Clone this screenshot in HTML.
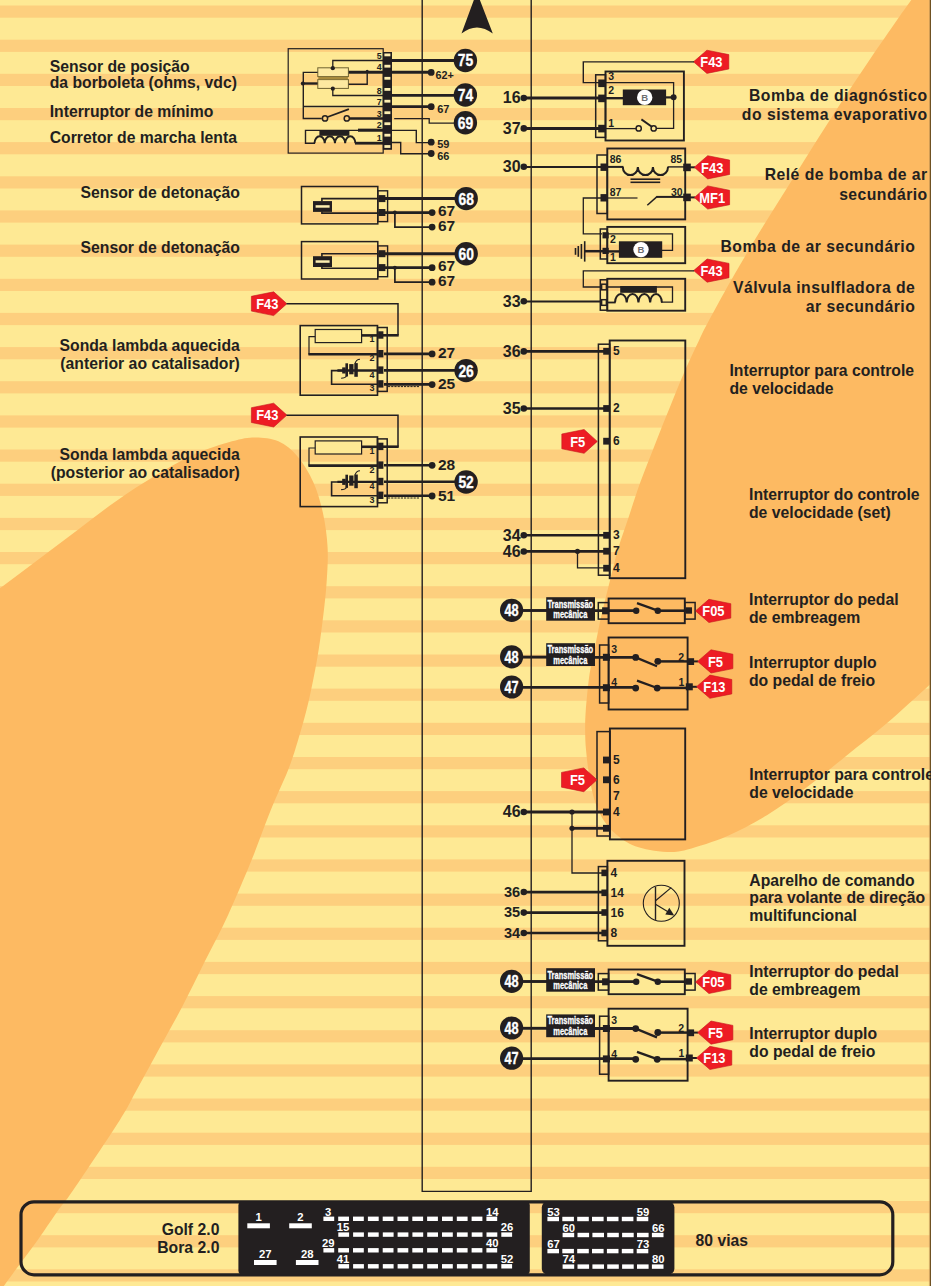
<!DOCTYPE html>
<html lang="pt-BR"><head><meta charset="utf-8"><title>Golf 2.0 / Bora 2.0 - 80 vias</title>
<style>
html,body{margin:0;padding:0;background:#fee994;}
svg{display:block;font-family:"Liberation Sans",sans-serif;}
</style></head><body>
<svg width="931" height="1286" viewBox="0 0 931 1286">
<rect width="931" height="1286" fill="#fee994"/>
<rect x="0" y="5.5" width="931" height="12.2" fill="#fdcf7e"/>
<rect x="0" y="39.7" width="931" height="12.2" fill="#fdcf7e"/>
<rect x="0" y="73.8" width="931" height="12.2" fill="#fdcf7e"/>
<rect x="0" y="108" width="931" height="12.2" fill="#fdcf7e"/>
<rect x="0" y="142.1" width="931" height="12.2" fill="#fdcf7e"/>
<rect x="0" y="176.3" width="931" height="12.2" fill="#fdcf7e"/>
<rect x="0" y="210.4" width="931" height="12.2" fill="#fdcf7e"/>
<rect x="0" y="244.6" width="931" height="12.2" fill="#fdcf7e"/>
<rect x="0" y="278.8" width="931" height="12.2" fill="#fdcf7e"/>
<rect x="0" y="312.9" width="931" height="12.2" fill="#fdcf7e"/>
<rect x="0" y="347.1" width="931" height="12.2" fill="#fdcf7e"/>
<rect x="0" y="381.2" width="931" height="12.2" fill="#fdcf7e"/>
<rect x="0" y="415.4" width="931" height="12.2" fill="#fdcf7e"/>
<rect x="0" y="449.5" width="931" height="12.2" fill="#fdcf7e"/>
<rect x="0" y="483.7" width="931" height="12.2" fill="#fdcf7e"/>
<rect x="0" y="517.9" width="931" height="12.2" fill="#fdcf7e"/>
<rect x="0" y="552" width="931" height="12.2" fill="#fdcf7e"/>
<rect x="0" y="586.2" width="931" height="12.2" fill="#fdcf7e"/>
<rect x="0" y="620.3" width="931" height="12.2" fill="#fdcf7e"/>
<rect x="0" y="654.5" width="931" height="12.2" fill="#fdcf7e"/>
<rect x="0" y="688.6" width="931" height="12.2" fill="#fdcf7e"/>
<rect x="0" y="722.8" width="931" height="12.2" fill="#fdcf7e"/>
<rect x="0" y="757" width="931" height="12.2" fill="#fdcf7e"/>
<rect x="0" y="791.1" width="931" height="12.2" fill="#fdcf7e"/>
<rect x="0" y="825.3" width="931" height="12.2" fill="#fdcf7e"/>
<rect x="0" y="859.4" width="931" height="12.2" fill="#fdcf7e"/>
<rect x="0" y="893.6" width="931" height="12.2" fill="#fdcf7e"/>
<rect x="0" y="927.7" width="931" height="12.2" fill="#fdcf7e"/>
<rect x="0" y="961.9" width="931" height="12.2" fill="#fdcf7e"/>
<rect x="0" y="996.1" width="931" height="12.2" fill="#fdcf7e"/>
<rect x="0" y="1030.2" width="931" height="12.2" fill="#fdcf7e"/>
<rect x="0" y="1064.4" width="931" height="12.2" fill="#fdcf7e"/>
<rect x="0" y="1098.5" width="931" height="12.2" fill="#fdcf7e"/>
<rect x="0" y="1132.7" width="931" height="12.2" fill="#fdcf7e"/>
<rect x="0" y="1166.8" width="931" height="12.2" fill="#fdcf7e"/>
<rect x="0" y="1201" width="931" height="12.2" fill="#fdcf7e"/>
<rect x="0" y="1235.2" width="931" height="12.2" fill="#fdcf7e"/>
<rect x="0" y="1269.3" width="931" height="12.2" fill="#fdcf7e"/>
<path d="M-40,618 C-33.3,613 -13.1,598 0,588.2 C13.1,578.4 25.8,568.9 38.7,559.2 C51.6,549.5 64.4,539.9 77.3,530.2 C90.2,520.5 103.1,510.2 116,501.2 C128.9,492.2 141.8,483.8 154.7,476.1 C167.6,468.4 180.4,460.6 193.3,454.8 C206.2,449 221.7,444.2 232,441.3 C242.3,438.4 247.5,437.4 255.2,437.4 C262.9,437.4 271.3,438.1 278.4,441.3 C285.5,444.5 292,449.9 297.8,456.7 C303.6,463.5 309,472.5 313.2,481.9 C317.4,491.2 320.5,501.8 322.9,512.8 C325.3,523.8 327,536 327.6,547.6 C328.2,559.2 327.4,570.1 326.6,582.4 C325.8,594.6 324.2,608.2 322.6,621.1 C321,634 319.4,646.3 317,659.8 C314.6,673.3 311.6,688.8 308.4,702.3 C305.2,715.8 301.2,729.7 297.8,741 C294.4,752.3 292.6,758.5 288.1,770 C283.6,781.5 276.8,795.2 270.7,810.3 C264.6,825.4 258.5,843.1 251.4,860.5 C244.3,877.9 235.9,897.9 228.2,914.7 C220.5,931.5 212.7,945.6 205,961.1 C197.3,976.6 189.6,992.7 181.8,1007.5 C174.1,1022.3 166.2,1035.8 158.5,1050 C150.8,1064.2 141.7,1080.9 135.3,1092.6 C128.9,1104.3 130.2,1103.8 119.9,1120 C109.6,1136.2 83.5,1175.1 73.3,1190 C63.1,1204.9 63.6,1202.8 58.7,1209.6 C53.8,1216.4 48.9,1224 44,1231 C39.1,1238 34.2,1244.9 29.3,1251.6 C24.4,1258.3 18.9,1265.4 14.7,1271.1 C10.5,1276.8 9.7,1278.2 3.9,1286 C-1.9,1293.8 -16,1312.7 -20,1318 L-60,1330 L-60,618 Z" fill="#fdba62"/>
<path d="M925,-20 C922.7,-16.7 915.8,-6.5 911.3,0 C906.8,6.5 904.5,9.2 897.7,19 C890.9,28.8 879.6,45.1 870.5,58.5 C861.4,71.9 852.4,85.5 843.3,99.3 C834.2,113.1 825.2,127.2 816.1,141.5 C807,155.8 798,170.5 788.9,185 C779.8,199.5 770.7,213.8 761.7,228.6 C752.7,243.3 743.8,258.3 735,273.5 C726.2,288.7 715.2,308.9 709.2,320 C703.2,331.1 703.1,331.8 699.1,340.2 C695.1,348.6 689.7,359.8 685,370.6 C680.3,381.4 675.9,392.5 670.8,405 C665.7,417.5 659.6,432.6 654.6,445.4 C649.6,458.2 644.9,469.7 640.5,481.8 C636.1,493.9 632,507.1 628.3,518.2 C624.6,529.3 621.2,538.3 618.2,548.6 C615.2,558.9 613,568.4 610.1,580 C607.2,591.6 603.5,606.1 600.8,618.3 C598.1,630.5 595.7,643.6 593.8,653.3 C591.9,663 590.6,666.9 589.2,676.6 C587.9,686.3 586.4,701.9 585.7,711.6 C585,721.3 585.1,728.1 585.2,734.9 C585.3,741.7 585.7,746 586.3,752.6 C586.9,759.2 587.8,767.1 589,774.4 C590.2,781.7 591.7,789.9 593.4,796.2 C595.1,802.6 597.3,808 599.4,812.5 C601.5,817 603.5,820.1 605.9,823.4 C608.2,826.7 610.4,829.2 613.5,832.1 C616.6,835 620.8,838.4 624.4,840.8 C628,843.1 631,844.7 635.3,846.2 C639.6,847.7 644.5,849 650,850 C655.5,851 661.8,852.1 668,852 C674.2,851.9 677.6,852.2 687.5,849.5 C697.4,846.8 714.1,841.8 727.4,836 C740.7,830.2 754,823.1 767.3,815 C780.6,806.9 793.8,797.1 807.1,787.1 C820.4,777.1 833.7,765.8 847,755.2 C860.3,744.6 872.8,735.2 886.8,723.3 C900.8,711.3 918,695.4 931,683.5 C944,671.6 959.3,657.2 965,652 L965,-20 Z" fill="#fdba62"/>
<rect x="928.8" y="0" width="1" height="1286" fill="#fdc578" opacity="0.6"/>
<rect x="929.7" y="0" width="1.3" height="1286" fill="#6f5122"/>
<polyline points="422.2,-5 422.2,1191.4 531.2,1191.4 531.2,-5" fill="none" stroke="#231f20" stroke-width="1.4" stroke-linecap="butt" stroke-linejoin="miter"/>
<path d="M476.8,-8 L492.8,33.5 Q476.8,21.5 461.5,33.5 Z" fill="#231f20"/>
<rect x="288.2" y="48.7" width="95" height="104.4" fill="none" stroke="#231f20" stroke-width="1.2"/>
<rect x="382.8" y="52" width="9.2" height="97.8" fill="#231f20"/>
<rect x="384.4" y="53.5" width="6" height="2.8" fill="#fdeeb0"/>
<rect x="384.4" y="64.8" width="6" height="2.8" fill="#fdeeb0"/>
<rect x="384.4" y="76.9" width="6" height="2.8" fill="#fdeeb0"/>
<rect x="384.4" y="88" width="6" height="2.8" fill="#fdeeb0"/>
<rect x="384.4" y="99.8" width="6" height="2.8" fill="#fdeeb0"/>
<rect x="384.4" y="111.3" width="6" height="2.8" fill="#fdeeb0"/>
<rect x="384.4" y="122.3" width="6" height="2.8" fill="#fdeeb0"/>
<rect x="384.4" y="133.8" width="6" height="2.8" fill="#fdeeb0"/>
<rect x="384.4" y="145.1" width="6" height="2.8" fill="#fdeeb0"/>
<text x="381.7" y="58.5" font-size="8.8" text-anchor="end" fill="#231f20" font-weight="bold">5</text>
<text x="381.7" y="70.4" font-size="8.8" text-anchor="end" fill="#231f20" font-weight="bold">4</text>
<text x="381.7" y="93.5" font-size="8.8" text-anchor="end" fill="#231f20" font-weight="bold">8</text>
<text x="381.7" y="104.7" font-size="8.8" text-anchor="end" fill="#231f20" font-weight="bold">7</text>
<text x="381.7" y="116.6" font-size="8.8" text-anchor="end" fill="#231f20" font-weight="bold">3</text>
<text x="381.7" y="128.3" font-size="8.8" text-anchor="end" fill="#231f20" font-weight="bold">2</text>
<text x="381.7" y="140.9" font-size="8.8" text-anchor="end" fill="#231f20" font-weight="bold">1</text>
<rect x="317.8" y="67.8" width="30.6" height="8.8" fill="#fde9a0" stroke="#6f6230" stroke-width="1"/>
<rect x="317.8" y="79.6" width="30.6" height="8.8" fill="#fde9a0" stroke="#6f6230" stroke-width="1"/>
<rect x="318.3" y="76.9" width="29.6" height="2.4" fill="#a88a3c"/>
<polyline points="332.8,68.2 332.8,60.5 383.5,60.5" fill="none" stroke="#231f20" stroke-width="1.3" stroke-linecap="butt" stroke-linejoin="miter"/>
<circle cx="332.8" cy="68.2" r="2.1" fill="#231f20"/>
<polyline points="332.8,88.6 332.8,95.5 383.5,95.5" fill="none" stroke="#231f20" stroke-width="1.3" stroke-linecap="butt" stroke-linejoin="miter"/>
<circle cx="332.8" cy="88.7" r="2.1" fill="#231f20"/>
<line x1="348.7" y1="72.3" x2="383.5" y2="72.3" stroke="#231f20" stroke-width="3" stroke-linecap="butt"/>
<polyline points="367.2,71 367.2,84.2 348.7,84.2" fill="none" stroke="#231f20" stroke-width="1.4" stroke-linecap="butt" stroke-linejoin="miter"/>
<circle cx="367.2" cy="71.2" r="1.5" fill="#231f20"/>
<circle cx="302.8" cy="83.5" r="2" fill="#231f20"/>
<line x1="302.8" y1="83.5" x2="317.6" y2="83.5" stroke="#231f20" stroke-width="2.4" stroke-linecap="butt"/>
<polyline points="317.6,72.4 303.3,72.4 303.3,118.5 321.8,118.5" fill="none" stroke="#231f20" stroke-width="1.4" stroke-linecap="butt" stroke-linejoin="miter"/>
<line x1="303.3" y1="106.5" x2="383.5" y2="106.5" stroke="#231f20" stroke-width="1.3" stroke-linecap="butt"/>
<circle cx="325" cy="118.4" r="2.6" fill="none" stroke="#231f20" stroke-width="1.5"/>
<circle cx="346.8" cy="118.4" r="2.6" fill="none" stroke="#231f20" stroke-width="1.5"/>
<line x1="327.6" y1="117" x2="348.9" y2="109.2" stroke="#231f20" stroke-width="1.8" stroke-linecap="butt"/>
<line x1="349.8" y1="118.5" x2="383.5" y2="118.5" stroke="#231f20" stroke-width="2.5" stroke-linecap="butt"/>
<polyline points="315,143.3 305.5,143.3 305.5,130.4 358.4,130.4" fill="none" stroke="#231f20" stroke-width="1.4" stroke-linecap="butt" stroke-linejoin="miter"/>
<line x1="358" y1="130.2" x2="383.5" y2="130.2" stroke="#231f20" stroke-width="3.1" stroke-linecap="butt"/>
<rect x="319.4" y="130.9" width="30" height="4.9" fill="#231f20"/>
<path d="M314.5,143.3 a5.11,7 0 0 1 10.22,0 a5.11,7 0 0 1 10.22,0 a5.11,7 0 0 1 10.22,0 a5.11,7 0 0 1 10.22,0" fill="none" stroke="#231f20" stroke-width="1.9"/>
<line x1="355" y1="143.2" x2="383.5" y2="143.2" stroke="#231f20" stroke-width="2.8" stroke-linecap="butt"/>
<line x1="391.7" y1="60.4" x2="455" y2="60.4" stroke="#231f20" stroke-width="3" stroke-linecap="butt"/>
<circle cx="465.4" cy="60.5" r="11.7" fill="#231f20"/>
<text transform="translate(465.4 66.4) scale(0.84 1)" font-size="16.5" text-anchor="middle" fill="#fff" stroke="#fff" stroke-width="0.35" font-weight="bold">75</text>
<line x1="391.7" y1="72.3" x2="431.2" y2="72.3" stroke="#231f20" stroke-width="2.9" stroke-linecap="butt"/>
<circle cx="431.2" cy="72.4" r="3.4" fill="#231f20"/>
<text x="435.6" y="79" font-size="10.8" text-anchor="start" fill="#231f20" font-weight="bold">62+</text>
<line x1="391.7" y1="95.4" x2="455" y2="95.4" stroke="#231f20" stroke-width="2.9" stroke-linecap="butt"/>
<circle cx="465.4" cy="95" r="11.7" fill="#231f20"/>
<text transform="translate(465.4 100.9) scale(0.84 1)" font-size="16.5" text-anchor="middle" fill="#fff" stroke="#fff" stroke-width="0.35" font-weight="bold">74</text>
<line x1="391.7" y1="106.6" x2="431.2" y2="106.6" stroke="#231f20" stroke-width="2.8" stroke-linecap="butt"/>
<circle cx="431.2" cy="106.7" r="3.4" fill="#231f20"/>
<text x="437.2" y="113.2" font-size="11" text-anchor="start" fill="#231f20" font-weight="bold">67</text>
<polyline points="394.2,118.6 429.2,118.6 429.2,123.1 455,123.1" fill="none" stroke="#231f20" stroke-width="1.3" stroke-linecap="butt" stroke-linejoin="miter"/>
<circle cx="465.4" cy="122.8" r="11.7" fill="#231f20"/>
<text transform="translate(465.4 128.7) scale(0.84 1)" font-size="16.5" text-anchor="middle" fill="#fff" stroke="#fff" stroke-width="0.35" font-weight="bold">69</text>
<polyline points="391.7,130.4 416.3,130.4 416.3,142.6 431.2,142.6" fill="none" stroke="#231f20" stroke-width="1.4" stroke-linecap="butt" stroke-linejoin="miter"/>
<circle cx="431.2" cy="142.2" r="3.4" fill="#231f20"/>
<text x="437.2" y="147.6" font-size="11" text-anchor="start" fill="#231f20" font-weight="bold">59</text>
<polyline points="391.7,142.5 400.7,142.5 400.7,153.8 431.2,153.8" fill="none" stroke="#231f20" stroke-width="1.4" stroke-linecap="butt" stroke-linejoin="miter"/>
<circle cx="431.2" cy="153.5" r="3.4" fill="#231f20"/>
<text x="437.2" y="159.8" font-size="11" text-anchor="start" fill="#231f20" font-weight="bold">66</text>
<rect x="301.5" y="186.5" width="76.3" height="37.4" fill="none" stroke="#231f20" stroke-width="1.5"/>
<rect x="377.8" y="190.8" width="9.8" height="30.8" fill="none" stroke="#231f20" stroke-width="1.4"/>
<rect x="378.4" y="195.1" width="7" height="7" fill="#231f20"/>
<rect x="378.4" y="209" width="7" height="7" fill="#231f20"/>
<rect x="313" y="201.1" width="19" height="10.8" fill="#231f20"/>
<rect x="315.6" y="205.2" width="14" height="2.5" fill="#fdeeb0"/>
<polyline points="321.9,201.6 321.9,198.6 378.7,198.6" fill="none" stroke="#231f20" stroke-width="1.6" stroke-linecap="butt" stroke-linejoin="miter"/>
<polyline points="321.9,211.5 321.9,213.1 378.7,213.1" fill="none" stroke="#231f20" stroke-width="1.6" stroke-linecap="butt" stroke-linejoin="miter"/>
<line x1="385" y1="198.6" x2="456" y2="198.6" stroke="#231f20" stroke-width="3" stroke-linecap="butt"/>
<circle cx="466.2" cy="198.6" r="11.7" fill="#231f20"/>
<text transform="translate(466.2 204.5) scale(0.84 1)" font-size="16.5" text-anchor="middle" fill="#fff" stroke="#fff" stroke-width="0.35" font-weight="bold">68</text>
<line x1="385" y1="212.6" x2="432.1" y2="212.6" stroke="#231f20" stroke-width="2.8" stroke-linecap="butt"/>
<circle cx="432.1" cy="212.6" r="3.4" fill="#231f20"/>
<polyline points="394.9,212.6 394.9,227.1 432.1,227.1" fill="none" stroke="#231f20" stroke-width="1.7" stroke-linecap="butt" stroke-linejoin="miter"/>
<circle cx="394.9" cy="212.6" r="2" fill="#231f20"/>
<circle cx="432.1" cy="227.1" r="3.4" fill="#231f20"/>
<text x="438" y="216.2" font-size="15.5" text-anchor="start" fill="#231f20" font-weight="bold">67</text>
<text x="438" y="231" font-size="15.5" text-anchor="start" fill="#231f20" font-weight="bold">67</text>
<rect x="301.5" y="241.6" width="76.3" height="37.4" fill="none" stroke="#231f20" stroke-width="1.5"/>
<rect x="377.8" y="245.9" width="9.8" height="30.8" fill="none" stroke="#231f20" stroke-width="1.4"/>
<rect x="378.4" y="250.2" width="7" height="7" fill="#231f20"/>
<rect x="378.4" y="264.1" width="7" height="7" fill="#231f20"/>
<rect x="313" y="256.2" width="19" height="10.8" fill="#231f20"/>
<rect x="315.6" y="260.3" width="14" height="2.5" fill="#fdeeb0"/>
<polyline points="321.9,256.7 321.9,253.7 378.7,253.7" fill="none" stroke="#231f20" stroke-width="1.6" stroke-linecap="butt" stroke-linejoin="miter"/>
<polyline points="321.9,266.6 321.9,268.2 378.7,268.2" fill="none" stroke="#231f20" stroke-width="1.6" stroke-linecap="butt" stroke-linejoin="miter"/>
<line x1="385" y1="253.7" x2="456" y2="253.7" stroke="#231f20" stroke-width="3" stroke-linecap="butt"/>
<circle cx="466.2" cy="253.7" r="11.7" fill="#231f20"/>
<text transform="translate(466.2 259.6) scale(0.84 1)" font-size="16.5" text-anchor="middle" fill="#fff" stroke="#fff" stroke-width="0.35" font-weight="bold">60</text>
<line x1="385" y1="267.7" x2="432.1" y2="267.7" stroke="#231f20" stroke-width="2.8" stroke-linecap="butt"/>
<circle cx="432.1" cy="267.7" r="3.4" fill="#231f20"/>
<polyline points="394.9,267.7 394.9,282.2 432.1,282.2" fill="none" stroke="#231f20" stroke-width="1.7" stroke-linecap="butt" stroke-linejoin="miter"/>
<circle cx="394.9" cy="267.7" r="2" fill="#231f20"/>
<circle cx="432.1" cy="282.2" r="3.4" fill="#231f20"/>
<text x="438" y="271.3" font-size="15.5" text-anchor="start" fill="#231f20" font-weight="bold">67</text>
<text x="438" y="286.1" font-size="15.5" text-anchor="start" fill="#231f20" font-weight="bold">67</text>
<polygon points="286.9,303.7 273.7,291.8 251.4,296.3 251.4,311.1 273.7,315.6" fill="#ed1c24" stroke="#c4161c" stroke-width="0.6"/>
<text transform="translate(267.3 309) scale(0.86 1)" font-size="15" text-anchor="middle" fill="#fff" font-weight="bold">F43</text>
<polyline points="286.5,303.8 398,303.8 398,335.3" fill="none" stroke="#231f20" stroke-width="1.5" stroke-linecap="butt" stroke-linejoin="miter"/>
<line x1="383" y1="335.3" x2="398.7" y2="335.3" stroke="#231f20" stroke-width="2.6" stroke-linecap="butt"/>
<rect x="300.2" y="325.6" width="77.3" height="69.6" fill="none" stroke="#231f20" stroke-width="1.6"/>
<rect x="377.5" y="327.5" width="9.7" height="63.9" fill="none" stroke="#231f20" stroke-width="1.5"/>
<rect x="378.1" y="331.3" width="5.3" height="7.4" fill="#231f20"/>
<rect x="378.1" y="350" width="5.3" height="7.4" fill="#231f20"/>
<rect x="378.1" y="366.4" width="5.3" height="7.4" fill="#231f20"/>
<rect x="378.1" y="380.2" width="5.3" height="7.4" fill="#231f20"/>
<text x="374.6" y="342.4" font-size="9" text-anchor="end" fill="#231f20" font-weight="bold">1</text>
<text x="374.6" y="361.1" font-size="9" text-anchor="end" fill="#231f20" font-weight="bold">2</text>
<text x="374.6" y="377.5" font-size="9" text-anchor="end" fill="#231f20" font-weight="bold">4</text>
<text x="374.6" y="391.3" font-size="9" text-anchor="end" fill="#231f20" font-weight="bold">3</text>
<rect x="315.2" y="329.5" width="46.4" height="13.1" fill="#fee994" stroke="#231f20" stroke-width="1.2"/>
<line x1="361.6" y1="335.4" x2="378.5" y2="335.4" stroke="#231f20" stroke-width="2.6" stroke-linecap="butt"/>
<polyline points="315.2,336.6 309,336.6 309,354.4" fill="none" stroke="#231f20" stroke-width="1.2" stroke-linecap="butt" stroke-linejoin="miter"/>
<line x1="308.4" y1="354.2" x2="378" y2="354.2" stroke="#231f20" stroke-width="2.6" stroke-linecap="butt"/>
<rect x="342.2" y="367.4" width="3.5" height="6.1" fill="#231f20"/>
<rect x="345.4" y="363.3" width="2.6" height="13.2" fill="#231f20"/>
<rect x="354.3" y="363.1" width="3.5" height="13.7" fill="#231f20"/>
<rect x="349.2" y="364.1" width="4.3" height="10.2" fill="#231f20"/>
<path d="M355,363.5 q1.2,-4 5,-4.2 M346.5,376 q-1.2,2.2 -5.4,2.2" transform="translate(0 0)" fill="none" stroke="#231f20" stroke-width="1.1"/>
<line x1="337.4" y1="370.5" x2="378" y2="370.5" stroke="#231f20" stroke-width="2.4" stroke-linecap="butt"/>
<polyline points="343,370.6 331.6,370.6 331.6,384.3 378,384.3" fill="none" stroke="#231f20" stroke-width="1.6" stroke-linecap="butt" stroke-linejoin="miter"/>
<line x1="384" y1="353.9" x2="432.1" y2="353.9" stroke="#231f20" stroke-width="2.6" stroke-linecap="butt"/>
<circle cx="432.1" cy="353.9" r="3.4" fill="#231f20"/>
<text x="438" y="358.3" font-size="15.5" text-anchor="start" fill="#231f20" font-weight="bold">27</text>
<line x1="384" y1="370.4" x2="455" y2="370.4" stroke="#231f20" stroke-width="2.6" stroke-linecap="butt"/>
<circle cx="466.1" cy="370.6" r="11.7" fill="#231f20"/>
<text transform="translate(466.1 376.5) scale(0.84 1)" font-size="16.5" text-anchor="middle" fill="#fff" stroke="#fff" stroke-width="0.35" font-weight="bold">26</text>
<line x1="384" y1="384.4" x2="432.1" y2="384.4" stroke="#231f20" stroke-width="2.6" stroke-linecap="butt"/>
<circle cx="432.1" cy="384.6" r="3.4" fill="#231f20"/>
<text x="438" y="389.2" font-size="15.5" text-anchor="start" fill="#231f20" font-weight="bold">25</text>
<line x1="388" y1="386.6" x2="420" y2="386.6" stroke="#231f20" stroke-width="1" stroke-dasharray="2.2 1"/>
<polygon points="286.9,415.1 273.7,403.2 251.4,407.7 251.4,422.5 273.7,427" fill="#ed1c24" stroke="#c4161c" stroke-width="0.6"/>
<text transform="translate(267.3 420.4) scale(0.86 1)" font-size="15" text-anchor="middle" fill="#fff" font-weight="bold">F43</text>
<polyline points="286.5,415.2 398,415.2 398,446.7" fill="none" stroke="#231f20" stroke-width="1.5" stroke-linecap="butt" stroke-linejoin="miter"/>
<line x1="383" y1="446.7" x2="398.7" y2="446.7" stroke="#231f20" stroke-width="2.6" stroke-linecap="butt"/>
<rect x="300.2" y="437" width="77.3" height="69.6" fill="none" stroke="#231f20" stroke-width="1.6"/>
<rect x="377.5" y="438.9" width="9.7" height="63.9" fill="none" stroke="#231f20" stroke-width="1.5"/>
<rect x="378.1" y="442.7" width="5.3" height="7.4" fill="#231f20"/>
<rect x="378.1" y="461.4" width="5.3" height="7.4" fill="#231f20"/>
<rect x="378.1" y="477.8" width="5.3" height="7.4" fill="#231f20"/>
<rect x="378.1" y="491.6" width="5.3" height="7.4" fill="#231f20"/>
<text x="374.6" y="453.8" font-size="9" text-anchor="end" fill="#231f20" font-weight="bold">1</text>
<text x="374.6" y="472.5" font-size="9" text-anchor="end" fill="#231f20" font-weight="bold">2</text>
<text x="374.6" y="488.9" font-size="9" text-anchor="end" fill="#231f20" font-weight="bold">4</text>
<text x="374.6" y="502.7" font-size="9" text-anchor="end" fill="#231f20" font-weight="bold">3</text>
<rect x="315.2" y="440.9" width="46.4" height="13.1" fill="#fee994" stroke="#231f20" stroke-width="1.2"/>
<line x1="361.6" y1="446.8" x2="378.5" y2="446.8" stroke="#231f20" stroke-width="2.6" stroke-linecap="butt"/>
<polyline points="315.2,448 309,448 309,465.8" fill="none" stroke="#231f20" stroke-width="1.2" stroke-linecap="butt" stroke-linejoin="miter"/>
<line x1="308.4" y1="465.6" x2="378" y2="465.6" stroke="#231f20" stroke-width="2.6" stroke-linecap="butt"/>
<rect x="342.2" y="478.8" width="3.5" height="6.1" fill="#231f20"/>
<rect x="345.4" y="474.7" width="2.6" height="13.2" fill="#231f20"/>
<rect x="354.3" y="474.5" width="3.5" height="13.7" fill="#231f20"/>
<rect x="349.2" y="475.5" width="4.3" height="10.2" fill="#231f20"/>
<path d="M355,363.5 q1.2,-4 5,-4.2 M346.5,376 q-1.2,2.2 -5.4,2.2" transform="translate(0 111.4)" fill="none" stroke="#231f20" stroke-width="1.1"/>
<line x1="337.4" y1="481.9" x2="378" y2="481.9" stroke="#231f20" stroke-width="2.4" stroke-linecap="butt"/>
<polyline points="343,482 331.6,482 331.6,495.7 378,495.7" fill="none" stroke="#231f20" stroke-width="1.6" stroke-linecap="butt" stroke-linejoin="miter"/>
<line x1="384" y1="465.3" x2="432.1" y2="465.3" stroke="#231f20" stroke-width="2.6" stroke-linecap="butt"/>
<circle cx="432.1" cy="465.3" r="3.4" fill="#231f20"/>
<text x="438" y="469.7" font-size="15.5" text-anchor="start" fill="#231f20" font-weight="bold">28</text>
<line x1="384" y1="481.8" x2="455" y2="481.8" stroke="#231f20" stroke-width="2.6" stroke-linecap="butt"/>
<circle cx="466.1" cy="482" r="11.7" fill="#231f20"/>
<text transform="translate(466.1 487.9) scale(0.84 1)" font-size="16.5" text-anchor="middle" fill="#fff" stroke="#fff" stroke-width="0.35" font-weight="bold">52</text>
<line x1="384" y1="495.8" x2="432.1" y2="495.8" stroke="#231f20" stroke-width="2.6" stroke-linecap="butt"/>
<circle cx="432.1" cy="496" r="3.4" fill="#231f20"/>
<text x="438" y="500.6" font-size="15.5" text-anchor="start" fill="#231f20" font-weight="bold">51</text>
<line x1="388" y1="498" x2="420" y2="498" stroke="#231f20" stroke-width="1" stroke-dasharray="2.2 1"/>
<polygon points="693.5,61.8 706.9,50.2 728.8,54.6 728.8,69 706.9,73.4" fill="#ed1c24" stroke="#c4161c" stroke-width="0.6"/>
<text transform="translate(711.4 67.1) scale(0.86 1)" font-size="15" text-anchor="middle" fill="#fff" font-weight="bold">F43</text>
<polyline points="694,61.9 583.3,61.9 583.3,82.6 600,82.6" fill="none" stroke="#231f20" stroke-width="1.4" stroke-linecap="butt" stroke-linejoin="miter"/>
<rect x="605.5" y="71.5" width="78.4" height="69" fill="none" stroke="#231f20" stroke-width="1.9"/>
<rect x="595.7" y="74.8" width="9.8" height="62.6" fill="none" stroke="#231f20" stroke-width="1.5"/>
<rect x="598.2" y="79.5" width="7.6" height="7.6" fill="#231f20"/>
<rect x="598.2" y="94.6" width="7.6" height="7.6" fill="#231f20"/>
<rect x="598.2" y="124.8" width="7.6" height="7.6" fill="#231f20"/>
<text x="608.3" y="80" font-size="10.5" text-anchor="start" fill="#231f20" font-weight="bold">3</text>
<text x="608.3" y="94.4" font-size="10.5" text-anchor="start" fill="#231f20" font-weight="bold">2</text>
<text x="608.3" y="127.2" font-size="10.5" text-anchor="start" fill="#231f20" font-weight="bold">1</text>
<text x="520.6" y="103.3" font-size="16" text-anchor="end" fill="#231f20" font-weight="bold">16</text>
<circle cx="523.8" cy="98" r="3.3" fill="#231f20"/>
<line x1="523.8" y1="98" x2="600" y2="98" stroke="#231f20" stroke-width="3" stroke-linecap="butt"/>
<text x="520.6" y="133.7" font-size="16" text-anchor="end" fill="#231f20" font-weight="bold">37</text>
<circle cx="523.8" cy="128.4" r="3.3" fill="#231f20"/>
<line x1="523.8" y1="128.5" x2="600" y2="128.5" stroke="#231f20" stroke-width="3" stroke-linecap="butt"/>
<line x1="605" y1="98.2" x2="623" y2="98.2" stroke="#231f20" stroke-width="2.4" stroke-linecap="butt"/>
<rect x="622.8" y="89.5" width="43.3" height="15.7" fill="#231f20"/>
<circle cx="644.7" cy="97.4" r="7.7" fill="#fff"/>
<text x="644.7" y="100.8" font-size="9.5" text-anchor="middle" fill="#6d6e71" font-weight="bold">B</text>
<line x1="666" y1="97.4" x2="673.6" y2="97.4" stroke="#231f20" stroke-width="2.2" stroke-linecap="butt"/>
<circle cx="673.6" cy="97.3" r="3" fill="#231f20"/>
<polyline points="605,82.6 673.6,82.6 673.6,128.4 656.4,128.4" fill="none" stroke="#231f20" stroke-width="1.3" stroke-linecap="butt" stroke-linejoin="miter"/>
<circle cx="638.7" cy="128.4" r="2.6" fill="none" stroke="#231f20" stroke-width="1.5"/>
<circle cx="653.7" cy="128.4" r="2.6" fill="none" stroke="#231f20" stroke-width="1.5"/>
<line x1="641.4" y1="119.4" x2="652.2" y2="127" stroke="#231f20" stroke-width="1.9" stroke-linecap="butt"/>
<line x1="605" y1="128.6" x2="636.1" y2="128.6" stroke="#231f20" stroke-width="1.3" stroke-linecap="butt"/>
<rect x="607.3" y="148.5" width="77.9" height="70.9" fill="none" stroke="#231f20" stroke-width="1.9"/>
<rect x="597" y="155" width="10.3" height="58.5" fill="none" stroke="#231f20" stroke-width="1.5"/>
<rect x="600.5" y="163.5" width="7.4" height="7.4" fill="#231f20"/>
<rect x="600.5" y="194.1" width="7.4" height="7.4" fill="#231f20"/>
<rect x="683.2" y="163.6" width="7.6" height="7.6" fill="#231f20"/>
<rect x="683.2" y="193.6" width="7.6" height="7.6" fill="#231f20"/>
<text x="520.6" y="172.1" font-size="16" text-anchor="end" fill="#231f20" font-weight="bold">30</text>
<circle cx="523.8" cy="166.8" r="3.3" fill="#231f20"/>
<line x1="523.8" y1="167" x2="601" y2="167" stroke="#231f20" stroke-width="1.8" stroke-linecap="butt"/>
<text x="609.7" y="163.3" font-size="10.5" text-anchor="start" fill="#231f20" font-weight="bold">86</text>
<text x="670.4" y="163.3" font-size="10.5" text-anchor="start" fill="#231f20" font-weight="bold">85</text>
<text x="609.7" y="196.2" font-size="10.5" text-anchor="start" fill="#231f20" font-weight="bold">87</text>
<text x="671" y="196.2" font-size="10.5" text-anchor="start" fill="#231f20" font-weight="bold">30</text>
<line x1="607" y1="166.9" x2="623.5" y2="166.9" stroke="#231f20" stroke-width="2" stroke-linecap="butt"/>
<path d="M622.8,166.9 a7.53,8.2 0 0 0 15.07,0 a7.53,8.2 0 0 0 15.07,0 a7.53,8.2 0 0 0 15.07,0" fill="none" stroke="#231f20" stroke-width="2"/>
<line x1="667.5" y1="166.9" x2="684" y2="166.9" stroke="#231f20" stroke-width="1.4" stroke-linecap="butt"/>
<line x1="630.5" y1="179.2" x2="660.2" y2="179.2" stroke="#231f20" stroke-width="1.6" stroke-linecap="butt"/>
<line x1="630.5" y1="182.3" x2="660.2" y2="182.3" stroke="#231f20" stroke-width="1.6" stroke-linecap="butt"/>
<line x1="607" y1="198" x2="637.5" y2="198" stroke="#231f20" stroke-width="1.2" stroke-linecap="butt"/>
<line x1="656.3" y1="196.9" x2="684" y2="196.9" stroke="#231f20" stroke-width="2" stroke-linecap="butt"/>
<line x1="657" y1="196.6" x2="647.3" y2="205.2" stroke="#231f20" stroke-width="1.5" stroke-linecap="butt"/>
<line x1="690" y1="167.3" x2="695" y2="167.3" stroke="#231f20" stroke-width="2" stroke-linecap="butt"/>
<polygon points="694.3,167.3 707.7,155.7 729.6,160.1 729.6,174.5 707.7,178.9" fill="#ed1c24" stroke="#c4161c" stroke-width="0.6"/>
<text transform="translate(712.2 172.6) scale(0.86 1)" font-size="15" text-anchor="middle" fill="#fff" font-weight="bold">F43</text>
<line x1="690" y1="197.4" x2="695" y2="197.4" stroke="#231f20" stroke-width="2" stroke-linecap="butt"/>
<polygon points="694.3,197.5 707.7,185.9 729.6,190.3 729.6,204.7 707.7,209.1" fill="#ed1c24" stroke="#c4161c" stroke-width="0.6"/>
<text transform="translate(712.2 202.8) scale(0.86 1)" font-size="15" text-anchor="middle" fill="#fff" font-weight="bold">MF1</text>
<polyline points="601,198 583.3,198 583.3,233.8 602,233.8" fill="none" stroke="#231f20" stroke-width="1.3" stroke-linecap="butt" stroke-linejoin="miter"/>
<rect x="607.3" y="226.9" width="77.9" height="36.3" fill="none" stroke="#231f20" stroke-width="1.9"/>
<rect x="600.3" y="229" width="7" height="30" fill="none" stroke="#231f20" stroke-width="1.5"/>
<rect x="602.5" y="232.2" width="6.2" height="6.2" fill="#231f20"/>
<rect x="602.5" y="247.8" width="6.2" height="6.2" fill="#231f20"/>
<text x="610" y="243.2" font-size="10.5" text-anchor="start" fill="#231f20" font-weight="bold">2</text>
<text x="610" y="261.3" font-size="10.5" text-anchor="start" fill="#231f20" font-weight="bold">1</text>
<polyline points="607,233.8 672.5,233.8 672.5,250.3 662,250.3" fill="none" stroke="#231f20" stroke-width="1.3" stroke-linecap="butt" stroke-linejoin="miter"/>
<line x1="604" y1="251.4" x2="619.5" y2="251.4" stroke="#231f20" stroke-width="2.4" stroke-linecap="butt"/>
<rect x="618.9" y="241.3" width="43.3" height="16.5" fill="#231f20"/>
<circle cx="641" cy="249.6" r="7.7" fill="#fff"/>
<text x="641" y="253" font-size="9.5" text-anchor="middle" fill="#6d6e71" font-weight="bold">B</text>
<line x1="584" y1="251.2" x2="603" y2="251.2" stroke="#231f20" stroke-width="2.5" stroke-linecap="butt"/>
<line x1="584.7" y1="241.2" x2="584.7" y2="261.6" stroke="#231f20" stroke-width="1.6" stroke-linecap="butt"/>
<line x1="581.4" y1="244" x2="581.4" y2="258.8" stroke="#231f20" stroke-width="1.6" stroke-linecap="butt"/>
<line x1="578.3" y1="246" x2="578.3" y2="256.8" stroke="#231f20" stroke-width="1.6" stroke-linecap="butt"/>
<line x1="575.5" y1="248" x2="575.5" y2="254.8" stroke="#231f20" stroke-width="1.6" stroke-linecap="butt"/>
<polygon points="693.7,270.6 707.1,259 729,263.4 729,277.8 707.1,282.2" fill="#ed1c24" stroke="#c4161c" stroke-width="0.6"/>
<text transform="translate(711.6 275.9) scale(0.86 1)" font-size="15" text-anchor="middle" fill="#fff" font-weight="bold">F43</text>
<polyline points="694,270.8 583.3,270.8 583.3,287 601,287" fill="none" stroke="#231f20" stroke-width="1.3" stroke-linecap="butt" stroke-linejoin="miter"/>
<rect x="607.3" y="278.8" width="77.9" height="31.9" fill="none" stroke="#231f20" stroke-width="1.9"/>
<rect x="600.3" y="279.8" width="7" height="30.4" fill="none" stroke="#231f20" stroke-width="1.5"/>
<rect x="601.6" y="284.2" width="4.8" height="5.6" fill="none" stroke="#231f20" stroke-width="1.5"/>
<rect x="601.6" y="299.7" width="4.8" height="5.6" fill="none" stroke="#231f20" stroke-width="1.5"/>
<polyline points="606.4,287 672.5,287 672.5,302.2 661,302.2" fill="none" stroke="#231f20" stroke-width="1.3" stroke-linecap="butt" stroke-linejoin="miter"/>
<rect x="620.2" y="286" width="36.7" height="6.8" fill="#231f20"/>
<path d="M615,302.4 a5.86,8.4 0 0 1 11.72,0 a5.86,8.4 0 0 1 11.72,0 a5.86,8.4 0 0 1 11.72,0 a5.86,8.4 0 0 1 11.72,0" fill="none" stroke="#231f20" stroke-width="2"/>
<line x1="606.4" y1="302.5" x2="615.6" y2="302.5" stroke="#231f20" stroke-width="1.8" stroke-linecap="butt"/>
<text x="520.6" y="306.5" font-size="16" text-anchor="end" fill="#231f20" font-weight="bold">33</text>
<circle cx="523.8" cy="301.2" r="3.3" fill="#231f20"/>
<line x1="523.8" y1="301.5" x2="601.6" y2="301.5" stroke="#231f20" stroke-width="1.9" stroke-linecap="butt"/>
<rect x="609.7" y="340.5" width="75.6" height="237.7" fill="none" stroke="#231f20" stroke-width="1.9"/>
<rect x="598.4" y="344.2" width="11.3" height="231" fill="none" stroke="#231f20" stroke-width="1.5"/>
<rect x="603.2" y="347.9" width="6.8" height="6.8" fill="#231f20"/>
<text x="613" y="355.2" font-size="12" text-anchor="start" fill="#231f20" font-weight="bold">5</text>
<rect x="603.2" y="405.1" width="6.8" height="6.8" fill="#231f20"/>
<text x="613" y="412.4" font-size="12" text-anchor="start" fill="#231f20" font-weight="bold">2</text>
<rect x="603.2" y="437.8" width="6.8" height="6.8" fill="#231f20"/>
<text x="613" y="445.1" font-size="12" text-anchor="start" fill="#231f20" font-weight="bold">6</text>
<rect x="603.2" y="531.9" width="6.8" height="6.8" fill="#231f20"/>
<text x="613" y="539.2" font-size="12" text-anchor="start" fill="#231f20" font-weight="bold">3</text>
<rect x="603.2" y="547.8" width="6.8" height="6.8" fill="#231f20"/>
<text x="613" y="555.1" font-size="12" text-anchor="start" fill="#231f20" font-weight="bold">7</text>
<rect x="603.2" y="564.8" width="6.8" height="6.8" fill="#231f20"/>
<text x="613" y="572.1" font-size="12" text-anchor="start" fill="#231f20" font-weight="bold">4</text>
<text x="520.6" y="356.7" font-size="16" text-anchor="end" fill="#231f20" font-weight="bold">36</text>
<circle cx="523.8" cy="351.4" r="3.3" fill="#231f20"/>
<line x1="523.8" y1="351.4" x2="604" y2="351.4" stroke="#231f20" stroke-width="2.6" stroke-linecap="butt"/>
<text x="520.6" y="413.8" font-size="16" text-anchor="end" fill="#231f20" font-weight="bold">35</text>
<circle cx="523.8" cy="408.5" r="3.3" fill="#231f20"/>
<line x1="523.8" y1="408.5" x2="604" y2="408.5" stroke="#231f20" stroke-width="2.6" stroke-linecap="butt"/>
<text x="520.6" y="540.6" font-size="16" text-anchor="end" fill="#231f20" font-weight="bold">34</text>
<circle cx="523.8" cy="535.3" r="3.3" fill="#231f20"/>
<line x1="523.8" y1="535.3" x2="604" y2="535.3" stroke="#231f20" stroke-width="2.6" stroke-linecap="butt"/>
<text x="520.6" y="556.8" font-size="16" text-anchor="end" fill="#231f20" font-weight="bold">46</text>
<circle cx="523.8" cy="551.5" r="3.3" fill="#231f20"/>
<line x1="523.8" y1="551.4" x2="604" y2="551.4" stroke="#231f20" stroke-width="2.6" stroke-linecap="butt"/>
<circle cx="577.5" cy="551.3" r="2.6" fill="#231f20"/>
<polyline points="577.5,551.3 577.5,567.9 604,567.9" fill="none" stroke="#231f20" stroke-width="1.3" stroke-linecap="butt" stroke-linejoin="miter"/>
<polygon points="597.3,441.4 584.1,429.5 561.8,434 561.8,448.8 584.1,453.3" fill="#ed1c24" stroke="#c4161c" stroke-width="0.6"/>
<text transform="translate(577.7 446.7) scale(0.86 1)" font-size="15" text-anchor="middle" fill="#fff" font-weight="bold">F5</text>
<circle cx="511.6" cy="610.3" r="11.6" fill="#231f20"/>
<text transform="translate(511.6 616.4) scale(0.75 1)" font-size="17" text-anchor="middle" fill="#fff" stroke="#fff" stroke-width="0.35" font-weight="bold">48</text>
<line x1="522" y1="610.5" x2="547" y2="610.5" stroke="#231f20" stroke-width="2.9" stroke-linecap="butt"/>
<rect x="546.2" y="597.2" width="48.8" height="23.5" fill="#231f20"/>
<text transform="translate(570.3 607.5) scale(0.72 1)" font-size="10.4" text-anchor="middle" fill="#fff" stroke="#fff" stroke-width="0.3" font-weight="bold">Transmissão</text>
<text transform="translate(570.3 617.8) scale(0.72 1)" font-size="10.4" text-anchor="middle" fill="#fff" stroke="#fff" stroke-width="0.3" font-weight="bold">mecânica</text>
<line x1="594.5" y1="610.6" x2="636" y2="610.6" stroke="#231f20" stroke-width="2.8" stroke-linecap="butt"/>
<rect x="608.6" y="598.5" width="76.2" height="24.7" fill="none" stroke="#231f20" stroke-width="1.9"/>
<rect x="598.3" y="602.6" width="10.3" height="16.5" fill="none" stroke="#231f20" stroke-width="1.5"/>
<rect x="684.8" y="602.5" width="10.3" height="16.6" fill="none" stroke="#231f20" stroke-width="1.5"/>
<rect x="602.1" y="607.3" width="7" height="7" fill="#231f20"/>
<rect x="685.6" y="607.3" width="6.4" height="6.4" fill="#231f20"/>
<circle cx="636.2" cy="610.8" r="3.2" fill="#231f20"/>
<circle cx="657.8" cy="610.8" r="3.2" fill="#231f20"/>
<line x1="637" y1="603.2" x2="657.8" y2="610.6" stroke="#231f20" stroke-width="2.3" stroke-linecap="butt"/>
<line x1="657.8" y1="610.7" x2="687" y2="610.7" stroke="#231f20" stroke-width="2.6" stroke-linecap="butt"/>
<polygon points="695.5,610.9 708.9,599.3 730.8,603.7 730.8,618.1 708.9,622.5" fill="#ed1c24" stroke="#c4161c" stroke-width="0.6"/>
<text transform="translate(713.4 616.2) scale(0.86 1)" font-size="15" text-anchor="middle" fill="#fff" font-weight="bold">F05</text>
<circle cx="511.6" cy="981.3" r="11.6" fill="#231f20"/>
<text transform="translate(511.6 987.4) scale(0.75 1)" font-size="17" text-anchor="middle" fill="#fff" stroke="#fff" stroke-width="0.35" font-weight="bold">48</text>
<line x1="522" y1="981.5" x2="547" y2="981.5" stroke="#231f20" stroke-width="2.9" stroke-linecap="butt"/>
<rect x="546.2" y="968.2" width="48.8" height="23.5" fill="#231f20"/>
<text transform="translate(570.3 978.5) scale(0.72 1)" font-size="10.4" text-anchor="middle" fill="#fff" stroke="#fff" stroke-width="0.3" font-weight="bold">Transmissão</text>
<text transform="translate(570.3 988.8) scale(0.72 1)" font-size="10.4" text-anchor="middle" fill="#fff" stroke="#fff" stroke-width="0.3" font-weight="bold">mecânica</text>
<line x1="594.5" y1="981.6" x2="636" y2="981.6" stroke="#231f20" stroke-width="2.8" stroke-linecap="butt"/>
<rect x="608.6" y="969.5" width="76.2" height="24.7" fill="none" stroke="#231f20" stroke-width="1.9"/>
<rect x="598.3" y="973.6" width="10.3" height="16.5" fill="none" stroke="#231f20" stroke-width="1.5"/>
<rect x="684.8" y="973.5" width="10.3" height="16.6" fill="none" stroke="#231f20" stroke-width="1.5"/>
<rect x="602.1" y="978.3" width="7" height="7" fill="#231f20"/>
<rect x="685.6" y="978.3" width="6.4" height="6.4" fill="#231f20"/>
<circle cx="636.2" cy="981.8" r="3.2" fill="#231f20"/>
<circle cx="657.8" cy="981.8" r="3.2" fill="#231f20"/>
<line x1="637" y1="974.2" x2="657.8" y2="981.6" stroke="#231f20" stroke-width="2.3" stroke-linecap="butt"/>
<line x1="657.8" y1="981.7" x2="687" y2="981.7" stroke="#231f20" stroke-width="2.6" stroke-linecap="butt"/>
<polygon points="695.5,981.9 708.9,970.3 730.8,974.7 730.8,989.1 708.9,993.5" fill="#ed1c24" stroke="#c4161c" stroke-width="0.6"/>
<text transform="translate(713.4 987.2) scale(0.86 1)" font-size="15" text-anchor="middle" fill="#fff" font-weight="bold">F05</text>
<circle cx="511.6" cy="656.8" r="11.6" fill="#231f20"/>
<text transform="translate(511.6 662.9) scale(0.75 1)" font-size="17" text-anchor="middle" fill="#fff" stroke="#fff" stroke-width="0.35" font-weight="bold">48</text>
<circle cx="511.6" cy="687" r="11.6" fill="#231f20"/>
<text transform="translate(511.6 693.1) scale(0.75 1)" font-size="17" text-anchor="middle" fill="#fff" stroke="#fff" stroke-width="0.35" font-weight="bold">47</text>
<line x1="522" y1="657.1" x2="547" y2="657.1" stroke="#231f20" stroke-width="2.9" stroke-linecap="butt"/>
<rect x="546.2" y="643.2" width="48.8" height="22.8" fill="#231f20"/>
<text transform="translate(570.3 653.2) scale(0.72 1)" font-size="10.4" text-anchor="middle" fill="#fff" stroke="#fff" stroke-width="0.3" font-weight="bold">Transmissão</text>
<text transform="translate(570.3 663.5) scale(0.72 1)" font-size="10.4" text-anchor="middle" fill="#fff" stroke="#fff" stroke-width="0.3" font-weight="bold">mecânica</text>
<line x1="594.5" y1="657.3" x2="636" y2="657.3" stroke="#231f20" stroke-width="2.8" stroke-linecap="butt"/>
<line x1="522" y1="687.4" x2="636" y2="687.4" stroke="#231f20" stroke-width="2.9" stroke-linecap="butt"/>
<rect x="608.6" y="637.5" width="79" height="72" fill="none" stroke="#231f20" stroke-width="1.9"/>
<rect x="599.6" y="645" width="9" height="58" fill="none" stroke="#231f20" stroke-width="1.5"/>
<rect x="602.9" y="653.8" width="7" height="7" fill="#231f20"/>
<rect x="602.9" y="684.2" width="7" height="7" fill="#231f20"/>
<rect x="687.3" y="658.2" width="6.8" height="6.8" fill="#231f20"/>
<rect x="685.8" y="683.3" width="7" height="7" fill="#231f20"/>
<text x="611.2" y="653" font-size="10.5" text-anchor="start" fill="#231f20" font-weight="bold">3</text>
<text x="678.2" y="660.8" font-size="10.5" text-anchor="start" fill="#231f20" font-weight="bold">2</text>
<text x="611.2" y="686.4" font-size="10.5" text-anchor="start" fill="#231f20" font-weight="bold">4</text>
<text x="678.6" y="685.8" font-size="10.5" text-anchor="start" fill="#231f20" font-weight="bold">1</text>
<circle cx="635.7" cy="657.4" r="3.4" fill="#231f20"/>
<circle cx="657.8" cy="661.3" r="3.4" fill="#231f20"/>
<line x1="635.7" y1="657.4" x2="657" y2="666.2" stroke="#231f20" stroke-width="2.3" stroke-linecap="butt"/>
<line x1="657.8" y1="661.4" x2="688" y2="661.4" stroke="#231f20" stroke-width="2.5" stroke-linecap="butt"/>
<circle cx="635.7" cy="688.1" r="3.4" fill="#231f20"/>
<circle cx="657.2" cy="688.1" r="3.4" fill="#231f20"/>
<line x1="637" y1="680.6" x2="657.2" y2="688" stroke="#231f20" stroke-width="2.3" stroke-linecap="butt"/>
<line x1="657.2" y1="687.9" x2="688" y2="687.9" stroke="#231f20" stroke-width="2.5" stroke-linecap="butt"/>
<line x1="692" y1="661.4" x2="698" y2="661.4" stroke="#231f20" stroke-width="2" stroke-linecap="butt"/>
<polygon points="697.6,661.4 711,649.8 732.9,654.2 732.9,668.6 711,673" fill="#ed1c24" stroke="#c4161c" stroke-width="0.6"/>
<text transform="translate(715.5 666.7) scale(0.86 1)" font-size="15" text-anchor="middle" fill="#fff" font-weight="bold">F5</text>
<line x1="692" y1="686.8" x2="697" y2="686.8" stroke="#231f20" stroke-width="2" stroke-linecap="butt"/>
<polygon points="696.5,686.7 709.9,675.1 731.8,679.5 731.8,693.9 709.9,698.3" fill="#ed1c24" stroke="#c4161c" stroke-width="0.6"/>
<text transform="translate(714.4 692) scale(0.86 1)" font-size="15" text-anchor="middle" fill="#fff" font-weight="bold">F13</text>
<circle cx="511.6" cy="1028" r="11.6" fill="#231f20"/>
<text transform="translate(511.6 1034.1) scale(0.75 1)" font-size="17" text-anchor="middle" fill="#fff" stroke="#fff" stroke-width="0.35" font-weight="bold">48</text>
<circle cx="511.6" cy="1058.2" r="11.6" fill="#231f20"/>
<text transform="translate(511.6 1064.3) scale(0.75 1)" font-size="17" text-anchor="middle" fill="#fff" stroke="#fff" stroke-width="0.35" font-weight="bold">47</text>
<line x1="522" y1="1028.3" x2="547" y2="1028.3" stroke="#231f20" stroke-width="2.9" stroke-linecap="butt"/>
<rect x="546.2" y="1014.4" width="48.8" height="22.8" fill="#231f20"/>
<text transform="translate(570.3 1024.4) scale(0.72 1)" font-size="10.4" text-anchor="middle" fill="#fff" stroke="#fff" stroke-width="0.3" font-weight="bold">Transmissão</text>
<text transform="translate(570.3 1034.7) scale(0.72 1)" font-size="10.4" text-anchor="middle" fill="#fff" stroke="#fff" stroke-width="0.3" font-weight="bold">mecânica</text>
<line x1="594.5" y1="1028.5" x2="636" y2="1028.5" stroke="#231f20" stroke-width="2.8" stroke-linecap="butt"/>
<line x1="522" y1="1058.6" x2="636" y2="1058.6" stroke="#231f20" stroke-width="2.9" stroke-linecap="butt"/>
<rect x="608.6" y="1008.7" width="79" height="72" fill="none" stroke="#231f20" stroke-width="1.9"/>
<rect x="599.6" y="1016.2" width="9" height="58" fill="none" stroke="#231f20" stroke-width="1.5"/>
<rect x="602.9" y="1025" width="7" height="7" fill="#231f20"/>
<rect x="602.9" y="1055.4" width="7" height="7" fill="#231f20"/>
<rect x="687.3" y="1029.4" width="6.8" height="6.8" fill="#231f20"/>
<rect x="685.8" y="1054.5" width="7" height="7" fill="#231f20"/>
<text x="611.2" y="1024.2" font-size="10.5" text-anchor="start" fill="#231f20" font-weight="bold">3</text>
<text x="678.2" y="1032" font-size="10.5" text-anchor="start" fill="#231f20" font-weight="bold">2</text>
<text x="611.2" y="1057.6" font-size="10.5" text-anchor="start" fill="#231f20" font-weight="bold">4</text>
<text x="678.6" y="1057" font-size="10.5" text-anchor="start" fill="#231f20" font-weight="bold">1</text>
<circle cx="635.7" cy="1028.6" r="3.4" fill="#231f20"/>
<circle cx="657.8" cy="1032.5" r="3.4" fill="#231f20"/>
<line x1="635.7" y1="1028.6" x2="657" y2="1037.4" stroke="#231f20" stroke-width="2.3" stroke-linecap="butt"/>
<line x1="657.8" y1="1032.6" x2="688" y2="1032.6" stroke="#231f20" stroke-width="2.5" stroke-linecap="butt"/>
<circle cx="635.7" cy="1059.3" r="3.4" fill="#231f20"/>
<circle cx="657.2" cy="1059.3" r="3.4" fill="#231f20"/>
<line x1="637" y1="1051.8" x2="657.2" y2="1059.2" stroke="#231f20" stroke-width="2.3" stroke-linecap="butt"/>
<line x1="657.2" y1="1059.1" x2="688" y2="1059.1" stroke="#231f20" stroke-width="2.5" stroke-linecap="butt"/>
<line x1="692" y1="1032.6" x2="698" y2="1032.6" stroke="#231f20" stroke-width="2" stroke-linecap="butt"/>
<polygon points="697.6,1032.6 711,1021 732.9,1025.4 732.9,1039.8 711,1044.2" fill="#ed1c24" stroke="#c4161c" stroke-width="0.6"/>
<text transform="translate(715.5 1037.9) scale(0.86 1)" font-size="15" text-anchor="middle" fill="#fff" font-weight="bold">F5</text>
<line x1="692" y1="1058" x2="697" y2="1058" stroke="#231f20" stroke-width="2" stroke-linecap="butt"/>
<polygon points="696.5,1057.9 709.9,1046.3 731.8,1050.7 731.8,1065.1 709.9,1069.5" fill="#ed1c24" stroke="#c4161c" stroke-width="0.6"/>
<text transform="translate(714.4 1063.2) scale(0.86 1)" font-size="15" text-anchor="middle" fill="#fff" font-weight="bold">F13</text>
<rect x="609.9" y="728.5" width="75.3" height="110.9" fill="none" stroke="#231f20" stroke-width="1.9"/>
<rect x="597" y="731.6" width="12.9" height="104.4" fill="none" stroke="#231f20" stroke-width="1.5"/>
<rect x="603" y="756.6" width="6.8" height="6.8" fill="#231f20"/>
<text x="613" y="763.9" font-size="12" text-anchor="start" fill="#231f20" font-weight="bold">5</text>
<rect x="603" y="776.4" width="6.8" height="6.8" fill="#231f20"/>
<text x="613" y="783.7" font-size="12" text-anchor="start" fill="#231f20" font-weight="bold">6</text>
<text x="613" y="799.9" font-size="12" text-anchor="start" fill="#231f20" font-weight="bold">7</text>
<rect x="603" y="808.6" width="6.8" height="6.8" fill="#231f20"/>
<text x="613" y="815.9" font-size="12" text-anchor="start" fill="#231f20" font-weight="bold">4</text>
<rect x="603" y="824.9" width="6.8" height="6.8" fill="#231f20"/>
<polygon points="597,779.8 583.8,767.9 561.5,772.4 561.5,787.2 583.8,791.7" fill="#ed1c24" stroke="#c4161c" stroke-width="0.6"/>
<text transform="translate(577.4 785.1) scale(0.86 1)" font-size="15" text-anchor="middle" fill="#fff" font-weight="bold">F5</text>
<text x="520.6" y="817.3" font-size="16" text-anchor="end" fill="#231f20" font-weight="bold">46</text>
<circle cx="523.8" cy="812" r="3.3" fill="#231f20"/>
<line x1="523.8" y1="812" x2="604" y2="812" stroke="#231f20" stroke-width="2.9" stroke-linecap="butt"/>
<circle cx="572" cy="812" r="2.6" fill="#231f20"/>
<circle cx="572" cy="828.3" r="2.6" fill="#231f20"/>
<line x1="572" y1="828.3" x2="604" y2="828.3" stroke="#231f20" stroke-width="2.8" stroke-linecap="butt"/>
<polyline points="572,812 572,873 602,873" fill="none" stroke="#231f20" stroke-width="1.3" stroke-linecap="butt" stroke-linejoin="miter"/>
<rect x="607.4" y="860.8" width="77.1" height="85" fill="none" stroke="#231f20" stroke-width="1.9"/>
<rect x="598.4" y="866.6" width="9" height="74.2" fill="none" stroke="#231f20" stroke-width="1.5"/>
<rect x="601.4" y="869.6" width="6.6" height="6.6" fill="#231f20"/>
<text x="610.6" y="877" font-size="12" text-anchor="start" fill="#231f20" font-weight="bold">4</text>
<rect x="601.4" y="889.5" width="6.6" height="6.6" fill="#231f20"/>
<text x="610.6" y="896.9" font-size="12" text-anchor="start" fill="#231f20" font-weight="bold">14</text>
<rect x="601.4" y="909.2" width="6.6" height="6.6" fill="#231f20"/>
<text x="610.6" y="916.6" font-size="12" text-anchor="start" fill="#231f20" font-weight="bold">16</text>
<rect x="601.4" y="929.7" width="6.6" height="6.6" fill="#231f20"/>
<text x="610.6" y="937.1" font-size="12" text-anchor="start" fill="#231f20" font-weight="bold">8</text>
<text x="520.2" y="896.8" font-size="14.6" text-anchor="end" fill="#231f20" font-weight="bold">36</text>
<circle cx="523.8" cy="892" r="3.3" fill="#231f20"/>
<line x1="523.8" y1="892.2" x2="602" y2="892.2" stroke="#231f20" stroke-width="2.7" stroke-linecap="butt"/>
<text x="520.2" y="917.4" font-size="14.6" text-anchor="end" fill="#231f20" font-weight="bold">35</text>
<circle cx="523.8" cy="912.6" r="3.3" fill="#231f20"/>
<line x1="523.8" y1="912.6" x2="602" y2="912.6" stroke="#231f20" stroke-width="2.7" stroke-linecap="butt"/>
<text x="520.2" y="937.8" font-size="14.6" text-anchor="end" fill="#231f20" font-weight="bold">34</text>
<circle cx="523.8" cy="933" r="3.3" fill="#231f20"/>
<line x1="523.8" y1="933" x2="602" y2="933" stroke="#231f20" stroke-width="2.7" stroke-linecap="butt"/>
<circle cx="661.3" cy="903.3" r="18" fill="none" stroke="#231f20" stroke-width="1.1"/>
<line x1="655.5" y1="886.9" x2="655.5" y2="919.9" stroke="#231f20" stroke-width="1.4" stroke-linecap="butt"/>
<line x1="655.5" y1="900.8" x2="671.2" y2="887.6" stroke="#231f20" stroke-width="1.2" stroke-linecap="butt"/>
<line x1="655.5" y1="904.3" x2="670" y2="912.9" stroke="#231f20" stroke-width="1.2" stroke-linecap="butt"/>
<polygon points="674.2,915.4 665.3,914.6 669.3,907.8" fill="#231f20"/>
<text x="49.7" y="72" font-size="15.75" text-anchor="start" fill="#231f20" font-weight="bold">Sensor de posição</text>
<text x="49.7" y="87.9" font-size="15.75" text-anchor="start" fill="#231f20" font-weight="bold">da borboleta (ohms, vdc)</text>
<text x="49.7" y="117" font-size="15.75" text-anchor="start" fill="#231f20" font-weight="bold">Interruptor de mínimo</text>
<text x="49.7" y="142.5" font-size="15.75" text-anchor="start" fill="#231f20" font-weight="bold">Corretor de marcha lenta</text>
<text x="239.8" y="198.3" font-size="15.75" text-anchor="end" fill="#231f20" font-weight="bold">Sensor de detonação</text>
<text x="239.8" y="253.1" font-size="15.75" text-anchor="end" fill="#231f20" font-weight="bold">Sensor de detonação</text>
<text x="239.8" y="350.8" font-size="15.75" text-anchor="end" fill="#231f20" font-weight="bold">Sonda lambda aquecida</text>
<text x="239.8" y="368.6" font-size="15.75" text-anchor="end" fill="#231f20" font-weight="bold">(anterior ao catalisador)</text>
<text x="239.8" y="460.4" font-size="15.75" text-anchor="end" fill="#231f20" font-weight="bold">Sonda lambda aquecida</text>
<text x="239.8" y="477.8" font-size="15.75" text-anchor="end" fill="#231f20" font-weight="bold">(posterior ao catalisador)</text>
<text x="927.7" y="100.5" font-size="15.75" text-anchor="end" fill="#231f20" font-weight="bold" letter-spacing="0.49">Bomba de diagnóstico</text>
<text x="927.7" y="119.6" font-size="15.75" text-anchor="end" fill="#231f20" font-weight="bold" letter-spacing="0.49">do sistema evaporativo</text>
<text x="927.7" y="180.4" font-size="15.75" text-anchor="end" fill="#231f20" font-weight="bold" letter-spacing="0.47">Relé de bomba de ar</text>
<text x="927.7" y="199.5" font-size="15.75" text-anchor="end" fill="#231f20" font-weight="bold" letter-spacing="0.45">secundário</text>
<text x="915.3" y="251.6" font-size="15.75" text-anchor="end" fill="#231f20" font-weight="bold" letter-spacing="0.5">Bomba de ar secundário</text>
<text x="915.3" y="292.6" font-size="15.75" text-anchor="end" fill="#231f20" font-weight="bold" letter-spacing="0.47">Válvula insulfladora de</text>
<text x="915.3" y="312" font-size="15.75" text-anchor="end" fill="#231f20" font-weight="bold" letter-spacing="0.48">ar secundário</text>
<text x="729.4" y="375.8" font-size="15.75" text-anchor="start" fill="#231f20" font-weight="bold">Interruptor para controle</text>
<text x="729.4" y="393.8" font-size="15.75" text-anchor="start" fill="#231f20" font-weight="bold">de velocidade</text>
<text x="749" y="500.1" font-size="15.75" text-anchor="start" fill="#231f20" font-weight="bold">Interruptor do controle</text>
<text x="749" y="517.8" font-size="15.75" text-anchor="start" fill="#231f20" font-weight="bold">de velocidade (set)</text>
<text x="749" y="605.4" font-size="15.75" text-anchor="start" fill="#231f20" font-weight="bold">Interruptor do pedal</text>
<text x="749" y="623.3" font-size="15.75" text-anchor="start" fill="#231f20" font-weight="bold">de embreagem</text>
<text x="749" y="668.1" font-size="15.75" text-anchor="start" fill="#231f20" font-weight="bold">Interruptor duplo</text>
<text x="749" y="685.7" font-size="15.75" text-anchor="start" fill="#231f20" font-weight="bold">do pedal de freio</text>
<text x="749.3" y="780" font-size="15.75" text-anchor="start" fill="#231f20" font-weight="bold">Interruptor para controle</text>
<text x="749.3" y="798" font-size="15.75" text-anchor="start" fill="#231f20" font-weight="bold">de velocidade</text>
<text x="749.3" y="885.5" font-size="15.75" text-anchor="start" fill="#231f20" font-weight="bold">Aparelho de comando</text>
<text x="749.3" y="903.2" font-size="15.75" text-anchor="start" fill="#231f20" font-weight="bold">para volante de direção</text>
<text x="749.3" y="920.6" font-size="15.75" text-anchor="start" fill="#231f20" font-weight="bold">multifuncional</text>
<text x="749.3" y="976.6" font-size="15.75" text-anchor="start" fill="#231f20" font-weight="bold">Interruptor do pedal</text>
<text x="749.3" y="994.5" font-size="15.75" text-anchor="start" fill="#231f20" font-weight="bold">de embreagem</text>
<text x="749.3" y="1038.7" font-size="15.75" text-anchor="start" fill="#231f20" font-weight="bold">Interruptor duplo</text>
<text x="749.3" y="1056.6" font-size="15.75" text-anchor="start" fill="#231f20" font-weight="bold">do pedal de freio</text>
<rect x="21" y="1201.9" width="871.8" height="72.9" rx="13" fill="none" stroke="#231f20" stroke-width="3.2"/>
<text x="219.4" y="1235" font-size="15.75" text-anchor="end" fill="#231f20" font-weight="bold">Golf 2.0</text>
<text x="219.4" y="1253" font-size="15.75" text-anchor="end" fill="#231f20" font-weight="bold">Bora 2.0</text>
<text x="695.6" y="1245.6" font-size="15.7" text-anchor="start" fill="#231f20" font-weight="bold">80 vias</text>
<rect x="238.4" y="1201.6" width="291.4" height="73" fill="#231f20" rx="4"/>
<rect x="541.8" y="1201.6" width="132.6" height="73" fill="#231f20" rx="6"/>
<rect x="247.3" y="1223.3" width="22.6" height="5" fill="#fff"/>
<text x="258.6" y="1220.9" font-size="11.3" text-anchor="middle" fill="#fff" font-weight="bold">1</text>
<rect x="289.2" y="1223.3" width="22.6" height="5" fill="#fff"/>
<text x="300.5" y="1220.9" font-size="11.3" text-anchor="middle" fill="#fff" font-weight="bold">2</text>
<rect x="254" y="1260" width="22.6" height="5" fill="#fff"/>
<text x="265.3" y="1257.6" font-size="11.3" text-anchor="middle" fill="#fff" font-weight="bold">27</text>
<rect x="295.9" y="1260" width="22.6" height="5" fill="#fff"/>
<text x="307.2" y="1257.6" font-size="11.3" text-anchor="middle" fill="#fff" font-weight="bold">28</text>
<rect x="323.4" y="1216.6" width="10.8" height="4.4" fill="#fff"/>
<rect x="338.2" y="1216.6" width="10.8" height="4.4" fill="#fff"/>
<rect x="353" y="1216.6" width="10.8" height="4.4" fill="#fff"/>
<rect x="367.9" y="1216.6" width="10.8" height="4.4" fill="#fff"/>
<rect x="382.7" y="1216.6" width="10.8" height="4.4" fill="#fff"/>
<rect x="397.5" y="1216.6" width="10.8" height="4.4" fill="#fff"/>
<rect x="412.3" y="1216.6" width="10.8" height="4.4" fill="#fff"/>
<rect x="427.1" y="1216.6" width="10.8" height="4.4" fill="#fff"/>
<rect x="442" y="1216.6" width="10.8" height="4.4" fill="#fff"/>
<rect x="456.8" y="1216.6" width="10.8" height="4.4" fill="#fff"/>
<rect x="471.6" y="1216.6" width="10.8" height="4.4" fill="#fff"/>
<rect x="486.4" y="1216.6" width="10.8" height="4.4" fill="#fff"/>
<text x="328.2" y="1215.6" font-size="11.3" text-anchor="middle" fill="#fff" font-weight="bold">3</text>
<text x="492.2" y="1215.6" font-size="11.3" text-anchor="middle" fill="#fff" font-weight="bold">14</text>
<rect x="338.3" y="1232.4" width="10.8" height="4.4" fill="#fff"/>
<rect x="353.1" y="1232.4" width="10.8" height="4.4" fill="#fff"/>
<rect x="367.9" y="1232.4" width="10.8" height="4.4" fill="#fff"/>
<rect x="382.8" y="1232.4" width="10.8" height="4.4" fill="#fff"/>
<rect x="397.6" y="1232.4" width="10.8" height="4.4" fill="#fff"/>
<rect x="412.4" y="1232.4" width="10.8" height="4.4" fill="#fff"/>
<rect x="427.2" y="1232.4" width="10.8" height="4.4" fill="#fff"/>
<rect x="442" y="1232.4" width="10.8" height="4.4" fill="#fff"/>
<rect x="456.9" y="1232.4" width="10.8" height="4.4" fill="#fff"/>
<rect x="471.7" y="1232.4" width="10.8" height="4.4" fill="#fff"/>
<rect x="486.5" y="1232.4" width="10.8" height="4.4" fill="#fff"/>
<rect x="501.3" y="1232.4" width="10.8" height="4.4" fill="#fff"/>
<text x="343.1" y="1231.4" font-size="11.3" text-anchor="middle" fill="#fff" font-weight="bold">15</text>
<text x="507.1" y="1231.4" font-size="11.3" text-anchor="middle" fill="#fff" font-weight="bold">26</text>
<rect x="323.4" y="1248.1" width="10.8" height="4.4" fill="#fff"/>
<rect x="338.2" y="1248.1" width="10.8" height="4.4" fill="#fff"/>
<rect x="353" y="1248.1" width="10.8" height="4.4" fill="#fff"/>
<rect x="367.9" y="1248.1" width="10.8" height="4.4" fill="#fff"/>
<rect x="382.7" y="1248.1" width="10.8" height="4.4" fill="#fff"/>
<rect x="397.5" y="1248.1" width="10.8" height="4.4" fill="#fff"/>
<rect x="412.3" y="1248.1" width="10.8" height="4.4" fill="#fff"/>
<rect x="427.1" y="1248.1" width="10.8" height="4.4" fill="#fff"/>
<rect x="442" y="1248.1" width="10.8" height="4.4" fill="#fff"/>
<rect x="456.8" y="1248.1" width="10.8" height="4.4" fill="#fff"/>
<rect x="471.6" y="1248.1" width="10.8" height="4.4" fill="#fff"/>
<rect x="486.4" y="1248.1" width="10.8" height="4.4" fill="#fff"/>
<text x="328.2" y="1247.1" font-size="11.3" text-anchor="middle" fill="#fff" font-weight="bold">29</text>
<text x="492.2" y="1247.1" font-size="11.3" text-anchor="middle" fill="#fff" font-weight="bold">40</text>
<rect x="338.3" y="1264.1" width="10.8" height="4.4" fill="#fff"/>
<rect x="353.1" y="1264.1" width="10.8" height="4.4" fill="#fff"/>
<rect x="367.9" y="1264.1" width="10.8" height="4.4" fill="#fff"/>
<rect x="382.8" y="1264.1" width="10.8" height="4.4" fill="#fff"/>
<rect x="397.6" y="1264.1" width="10.8" height="4.4" fill="#fff"/>
<rect x="412.4" y="1264.1" width="10.8" height="4.4" fill="#fff"/>
<rect x="427.2" y="1264.1" width="10.8" height="4.4" fill="#fff"/>
<rect x="442" y="1264.1" width="10.8" height="4.4" fill="#fff"/>
<rect x="456.9" y="1264.1" width="10.8" height="4.4" fill="#fff"/>
<rect x="471.7" y="1264.1" width="10.8" height="4.4" fill="#fff"/>
<rect x="486.5" y="1264.1" width="10.8" height="4.4" fill="#fff"/>
<rect x="501.3" y="1264.1" width="10.8" height="4.4" fill="#fff"/>
<text x="343.1" y="1263.1" font-size="11.3" text-anchor="middle" fill="#fff" font-weight="bold">41</text>
<text x="507.1" y="1263.1" font-size="11.3" text-anchor="middle" fill="#fff" font-weight="bold">52</text>
<rect x="547.4" y="1216.8" width="11.6" height="4.4" fill="#fff"/>
<rect x="562.3" y="1216.8" width="11.6" height="4.4" fill="#fff"/>
<rect x="577.2" y="1216.8" width="11.6" height="4.4" fill="#fff"/>
<rect x="592" y="1216.8" width="11.6" height="4.4" fill="#fff"/>
<rect x="606.9" y="1216.8" width="11.6" height="4.4" fill="#fff"/>
<rect x="621.8" y="1216.8" width="11.6" height="4.4" fill="#fff"/>
<rect x="636.7" y="1216.8" width="11.6" height="4.4" fill="#fff"/>
<text x="553.6" y="1215.8" font-size="11.3" text-anchor="middle" fill="#fff" font-weight="bold">53</text>
<text x="643.1" y="1215.8" font-size="11.3" text-anchor="middle" fill="#fff" font-weight="bold">59</text>
<rect x="562.6" y="1232.8" width="11.6" height="4.4" fill="#fff"/>
<rect x="577.5" y="1232.8" width="11.6" height="4.4" fill="#fff"/>
<rect x="592.4" y="1232.8" width="11.6" height="4.4" fill="#fff"/>
<rect x="607.2" y="1232.8" width="11.6" height="4.4" fill="#fff"/>
<rect x="622.1" y="1232.8" width="11.6" height="4.4" fill="#fff"/>
<rect x="637" y="1232.8" width="11.6" height="4.4" fill="#fff"/>
<rect x="651.9" y="1232.8" width="11.6" height="4.4" fill="#fff"/>
<text x="568.8" y="1231.8" font-size="11.3" text-anchor="middle" fill="#fff" font-weight="bold">60</text>
<text x="658.3" y="1231.8" font-size="11.3" text-anchor="middle" fill="#fff" font-weight="bold">66</text>
<rect x="547.4" y="1248.9" width="11.6" height="4.4" fill="#fff"/>
<rect x="562.3" y="1248.9" width="11.6" height="4.4" fill="#fff"/>
<rect x="577.2" y="1248.9" width="11.6" height="4.4" fill="#fff"/>
<rect x="592" y="1248.9" width="11.6" height="4.4" fill="#fff"/>
<rect x="606.9" y="1248.9" width="11.6" height="4.4" fill="#fff"/>
<rect x="621.8" y="1248.9" width="11.6" height="4.4" fill="#fff"/>
<rect x="636.7" y="1248.9" width="11.6" height="4.4" fill="#fff"/>
<text x="553.6" y="1247.9" font-size="11.3" text-anchor="middle" fill="#fff" font-weight="bold">67</text>
<text x="643.1" y="1247.9" font-size="11.3" text-anchor="middle" fill="#fff" font-weight="bold">73</text>
<rect x="562.6" y="1264.4" width="11.6" height="4.4" fill="#fff"/>
<rect x="577.5" y="1264.4" width="11.6" height="4.4" fill="#fff"/>
<rect x="592.4" y="1264.4" width="11.6" height="4.4" fill="#fff"/>
<rect x="607.2" y="1264.4" width="11.6" height="4.4" fill="#fff"/>
<rect x="622.1" y="1264.4" width="11.6" height="4.4" fill="#fff"/>
<rect x="637" y="1264.4" width="11.6" height="4.4" fill="#fff"/>
<rect x="651.9" y="1264.4" width="11.6" height="4.4" fill="#fff"/>
<text x="568.8" y="1263.4" font-size="11.3" text-anchor="middle" fill="#fff" font-weight="bold">74</text>
<text x="658.3" y="1263.4" font-size="11.3" text-anchor="middle" fill="#fff" font-weight="bold">80</text>
</svg>
</body></html>
